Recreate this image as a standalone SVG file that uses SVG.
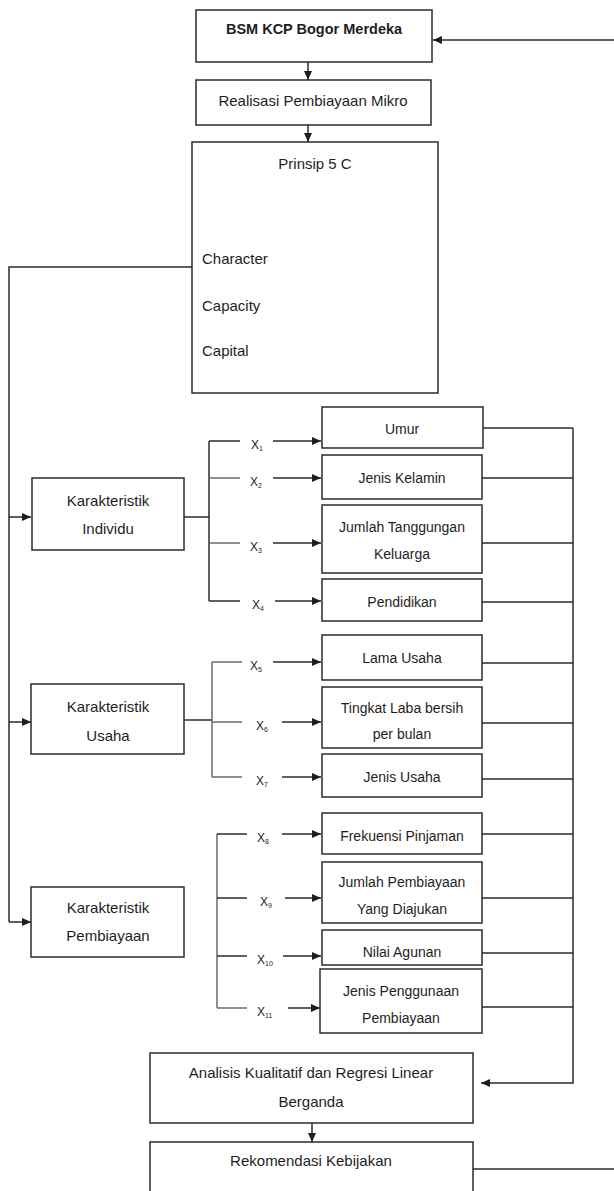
<svg xmlns="http://www.w3.org/2000/svg" width="614" height="1191" viewBox="0 0 614 1191">
<style>
  .box{fill:#fff;stroke:#2b2b2b;stroke-width:1.5}
  .t{font-family:"Liberation Sans",Arial,sans-serif;font-size:15px;fill:#1e1e1e;text-anchor:middle}
  .tl{font-family:"Liberation Sans",Arial,sans-serif;font-size:15px;fill:#1e1e1e}
  .ts{font-family:"Liberation Sans",Arial,sans-serif;font-size:14px;fill:#1e1e1e;text-anchor:middle}
  .b{font-weight:bold;font-size:14.5px}
  .x{font-family:"Liberation Sans",Arial,sans-serif;font-size:12px;fill:#1e1e1e}
  .sub{font-size:7px}
  .ln{fill:none;stroke:#2b2b2b;stroke-width:1.5}
  .gr{fill:none;stroke:#6a6a6a;stroke-width:1.5}
  .ar{fill:none;stroke:#2b2b2b;stroke-width:1.5;marker-end:url(#ah)}
</style>
<defs>
  <marker id="ah" markerUnits="userSpaceOnUse" markerWidth="10" markerHeight="8" refX="9" refY="4" orient="auto">
    <path d="M0,0 L9,4 L0,8 z" fill="#1e1e1e"/>
  </marker>
</defs>
<rect width="614" height="1191" fill="#fff"/>

<g id="connectors">
  <line class="ar" x1="614" y1="40" x2="433" y2="40"/>
  <line class="ar" x1="308" y1="62" x2="308" y2="80"/>
  <line class="ar" x1="308" y1="125" x2="308" y2="142"/>
  <polyline class="ln" points="192,267 9,267 9,922"/>
  <line class="ar" x1="9" y1="517" x2="31" y2="517"/>
  <line class="ar" x1="9" y1="722" x2="31" y2="722"/>
  <line class="ar" x1="9" y1="922" x2="31" y2="922"/>
  <line class="ln" x1="184" y1="517" x2="209" y2="517"/>
  <line class="ln" x1="209" y1="441" x2="209" y2="601"/>
  <line class="ln" x1="209" y1="441" x2="240" y2="441"/>
  <line class="gr" x1="209" y1="478" x2="240" y2="478"/>
  <line class="gr" x1="209" y1="543" x2="240" y2="543"/>
  <line class="ln" x1="209" y1="601" x2="240" y2="601"/>
  <line class="ar" x1="273" y1="441" x2="321" y2="441"/>
  <line class="ar" x1="273" y1="478" x2="321" y2="478"/>
  <line class="ar" x1="273" y1="543" x2="321" y2="543"/>
  <line class="ar" x1="275" y1="601" x2="321" y2="601"/>
  <line class="ln" x1="184" y1="720" x2="212" y2="720"/>
  <line class="gr" x1="212" y1="662" x2="212" y2="777"/>
  <line class="gr" x1="212" y1="662" x2="242" y2="662"/>
  <line class="gr" x1="212" y1="722" x2="242" y2="722"/>
  <line class="gr" x1="212" y1="777" x2="242" y2="777"/>
  <line class="ar" x1="273" y1="662" x2="321" y2="662"/>
  <line class="ar" x1="282" y1="722" x2="321" y2="722"/>
  <line class="ar" x1="282" y1="777" x2="321" y2="777"/>
  <line class="gr" x1="217" y1="834" x2="217" y2="1008"/>
  <line class="ln" x1="217" y1="834" x2="247" y2="834"/>
  <line class="ln" x1="217" y1="898" x2="247" y2="898"/>
  <line class="ln" x1="217" y1="956" x2="247" y2="956"/>
  <line class="gr" x1="217" y1="1008" x2="247" y2="1008"/>
  <line class="ar" x1="282" y1="834" x2="321" y2="834"/>
  <line class="ar" x1="285" y1="898" x2="321" y2="898"/>
  <line class="ar" x1="283" y1="956" x2="321" y2="956"/>
  <line class="ar" x1="288" y1="1008" x2="320" y2="1008"/>
  <line class="ln" x1="482" y1="428" x2="573" y2="428"/>
  <line class="ln" x1="482" y1="478" x2="573" y2="478"/>
  <line class="ln" x1="482" y1="543" x2="573" y2="543"/>
  <line class="ln" x1="482" y1="602" x2="573" y2="602"/>
  <line class="ln" x1="482" y1="663" x2="573" y2="663"/>
  <line class="ln" x1="482" y1="723" x2="573" y2="723"/>
  <line class="ln" x1="482" y1="779" x2="573" y2="779"/>
  <line class="ln" x1="482" y1="834" x2="573" y2="834"/>
  <line class="ln" x1="482" y1="898" x2="573" y2="898"/>
  <line class="ln" x1="482" y1="953" x2="573" y2="953"/>
  <line class="ln" x1="482" y1="1007" x2="573" y2="1007"/>
  <polyline class="ar" points="573,428 573,1083 481,1083"/>
  <line class="ar" x1="312" y1="1123" x2="312" y2="1142"/>
  <line class="ln" x1="473" y1="1169" x2="614" y2="1169"/>
</g>

<g id="labels">
  <text class="x" x="251" y="449">X<tspan class="sub" dy="2">1</tspan></text>
  <text class="x" x="250" y="486">X<tspan class="sub" dy="2">2</tspan></text>
  <text class="x" x="250" y="551">X<tspan class="sub" dy="2">3</tspan></text>
  <text class="x" x="252" y="609">X<tspan class="sub" dy="2">4</tspan></text>
  <text class="x" x="250" y="670">X<tspan class="sub" dy="2">5</tspan></text>
  <text class="x" x="256" y="730">X<tspan class="sub" dy="2">6</tspan></text>
  <text class="x" x="256" y="785">X<tspan class="sub" dy="2">7</tspan></text>
  <text class="x" x="257" y="842">X<tspan class="sub" dy="2">8</tspan></text>
  <text class="x" x="260" y="906">X<tspan class="sub" dy="2">9</tspan></text>
  <text class="x" x="257" y="964">X<tspan class="sub" dy="2">10</tspan></text>
  <text class="x" x="257" y="1016">X<tspan class="sub" dy="2">11</tspan></text>
</g>

<g id="bsm">
  <rect class="box" x="196" y="10" width="236" height="52"/>
  <text class="t b" x="314" y="34">BSM KCP Bogor Merdeka</text>
</g>
<g id="realisasi">
  <rect class="box" x="196" y="80" width="235" height="45"/>
  <text class="t" x="313" y="106">Realisasi Pembiayaan Mikro</text>
</g>
<g id="prinsip">
  <rect class="box" x="192" y="142" width="246" height="251"/>
  <text class="t" x="315" y="169">Prinsip 5 C</text>
  <text class="tl" x="202" y="264">Character</text>
  <text class="tl" x="202" y="311">Capacity</text>
  <text class="tl" x="202" y="356">Capital</text>
</g>
<g id="k-individu">
  <rect class="box" x="32" y="478" width="152" height="72"/>
  <text class="t" x="108" y="506">Karakteristik</text>
  <text class="t" x="108" y="534">Individu</text>
</g>
<g id="k-usaha">
  <rect class="box" x="31" y="684" width="153" height="70"/>
  <text class="t" x="108" y="712">Karakteristik</text>
  <text class="t" x="108" y="741">Usaha</text>
</g>
<g id="k-pembiayaan">
  <rect class="box" x="31" y="887" width="153" height="70"/>
  <text class="t" x="108" y="913">Karakteristik</text>
  <text class="t" x="108" y="941">Pembiayaan</text>
</g>

<g id="umur">
  <rect class="box" x="322" y="407" width="161" height="41"/>
  <text class="ts" x="402" y="434">Umur</text>
</g>
<g id="jenis-kelamin">
  <rect class="box" x="322" y="455" width="160" height="44"/>
  <text class="ts" x="402" y="483">Jenis Kelamin</text>
</g>
<g id="jumlah-tanggungan">
  <rect class="box" x="322" y="505" width="160" height="68"/>
  <text class="ts" x="402" y="532">Jumlah Tanggungan</text>
  <text class="ts" x="402" y="559">Keluarga</text>
</g>
<g id="pendidikan">
  <rect class="box" x="322" y="579" width="160" height="42"/>
  <text class="ts" x="402" y="607">Pendidikan</text>
</g>
<g id="lama-usaha">
  <rect class="box" x="322" y="635" width="160" height="45"/>
  <text class="ts" x="402" y="663">Lama Usaha</text>
</g>
<g id="tingkat-laba">
  <rect class="box" x="322" y="687" width="160" height="61"/>
  <text class="ts" x="402" y="713">Tingkat Laba bersih</text>
  <text class="ts" x="402" y="739">per bulan</text>
</g>
<g id="jenis-usaha">
  <rect class="box" x="322" y="754" width="160" height="43"/>
  <text class="ts" x="402" y="782">Jenis Usaha</text>
</g>
<g id="frekuensi">
  <rect class="box" x="322" y="813" width="160" height="41"/>
  <text class="ts" x="402" y="841">Frekuensi Pinjaman</text>
</g>
<g id="jumlah-pembiayaan">
  <rect class="box" x="322" y="862" width="160" height="61"/>
  <text class="ts" x="402" y="887">Jumlah Pembiayaan</text>
  <text class="ts" x="402" y="914">Yang Diajukan</text>
</g>
<g id="nilai-agunan">
  <rect class="box" x="322" y="930" width="160" height="35"/>
  <text class="ts" x="402" y="957">Nilai Agunan</text>
</g>
<g id="jenis-penggunaan">
  <rect class="box" x="320" y="969" width="162" height="64"/>
  <text class="ts" x="401" y="996">Jenis Penggunaan</text>
  <text class="ts" x="401" y="1023">Pembiayaan</text>
</g>

<g id="analisis">
  <rect class="box" x="150" y="1053" width="323" height="70"/>
  <text class="t" x="311" y="1078">Analisis Kualitatif dan Regresi Linear</text>
  <text class="t" x="311" y="1107">Berganda</text>
</g>
<g id="rekomendasi">
  <rect class="box" x="150" y="1142" width="323" height="70"/>
  <text class="t" x="311" y="1166">Rekomendasi Kebijakan</text>
</g>
</svg>
